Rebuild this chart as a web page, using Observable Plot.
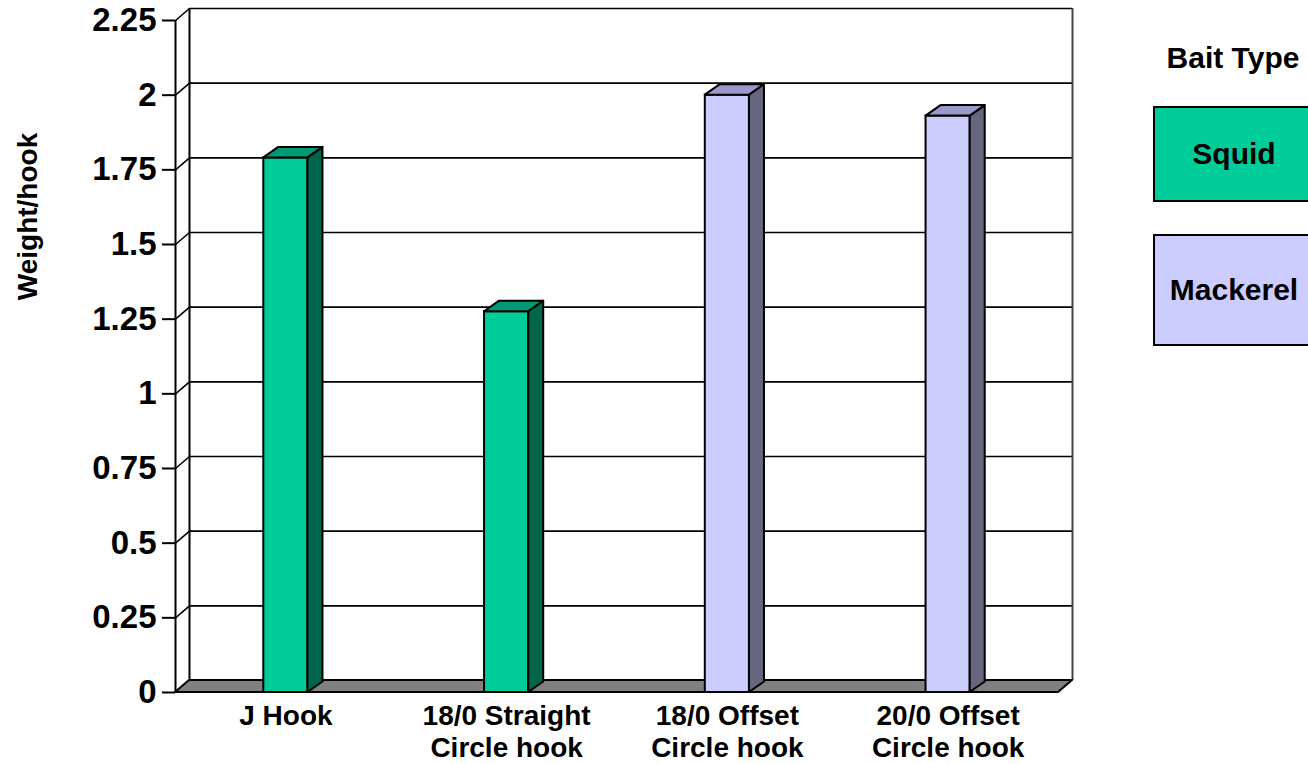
<!DOCTYPE html>
<html>
<head>
<meta charset="utf-8">
<script src="https://cdn.jsdelivr.net/npm/d3@7"></script>
<script src="https://cdn.jsdelivr.net/npm/@observablehq/plot@0.6"></script>
<style>
  html, body { margin: 0; padding: 0; background: #fff; overflow: hidden; }
  #wrap { position: relative; width: 1308px; height: 764px; overflow: hidden;
          font-family: "Liberation Sans", Arial, sans-serif; font-weight: bold; }
  #legend { position: absolute; left: 1153px; top: 0; width: 170px; }
  #legend .title { position: absolute; left: 0; top: 38px; width: 160px; text-align: center;
                   font-size: 30px; line-height: 40px; white-space: nowrap; }
  #legend .box { position: absolute; left: 0; width: 158px; border: 2px solid #000;
                 display: flex; align-items: center; justify-content: center;
                 font-size: 30px; box-sizing: content-box; }
</style>
</head>
<body>
<div id="wrap"><div id="chart"></div><div id="legend"></div></div>
<script>
// ---- data ----
const categories = ["J Hook", "18/0 Straight\nCircle hook", "18/0 Offset\nCircle hook", "20/0 Offset\nCircle hook"];
const values = [1.79, 1.275, 2.0, 1.93];
const bait = ["Squid", "Squid", "Mackerel", "Mackerel"];
const baitTypes = ["Squid", "Mackerel"];
const yTicks = [0, 0.25, 0.5, 0.75, 1, 1.25, 1.5, 1.75, 2, 2.25];
const yTickLabels = ["0", "0.25", "0.5", "0.75", "1", "1.25", "1.5", "1.75", "2", "2.25"];

// ---- styles ----
const frontColor = {Squid: "#00CC99", Mackerel: "#CCCCFF"};
const sideColor  = {Squid: "#006649", Mackerel: "#666680"};
const topColor   = {Squid: "#009973", Mackerel: "#9999CC"};

// 3D depth offsets (in data units)
const X0 = -0.5, X1 = categories.length - 0.5;
const YMAX = 2.25;
const WD = 0.0634;  // wall depth along x
const WE = 0.0402;  // wall depth along y
const BW = 0.1;     // bar half width
const BD = 0.068;   // bar depth along x
const BE = 0.0352;  // bar depth along y

const bars = categories.map((c, i) => ({i, c, v: values[i], bait: bait[i]}));
const sidePts = bars.flatMap(b => [
  {id: b.i, bait: b.bait, x: b.i + BW, y1: 0, y2: b.v},
  {id: b.i, bait: b.bait, x: b.i + BW + BD, y1: BE, y2: b.v + BE}
]);
const topPts = bars.flatMap(b => [
  {id: b.i, bait: b.bait, x: b.i - BW, y1: b.v, y2: b.v},
  {id: b.i, bait: b.bait, x: b.i - BW + BD, y1: b.v, y2: b.v + BE},
  {id: b.i, bait: b.bait, x: b.i + BW, y1: b.v, y2: b.v + BE},
  {id: b.i, bait: b.bait, x: b.i + BW + BD, y1: b.v + BE, y2: b.v + BE}
]);
const floorPts = [
  {x: X0, y1: 0, y2: 0},
  {x: X0 + WD, y1: 0, y2: WE},
  {x: X1, y1: 0, y2: WE},
  {x: X1 + WD, y1: WE, y2: WE}
];

const plot = Plot.plot({
  width: 1308,
  height: 764,
  marginLeft: 175,
  marginRight: 236,
  marginTop: 8,
  marginBottom: 72,
  x: {domain: [X0, X1 + WD], axis: null},
  y: {domain: [0, YMAX + WE], axis: null},
  color: {type: "identity"},
  style: {fontFamily: "Liberation Sans, Arial, sans-serif", fontWeight: "bold", background: "#fff", color: "#000"},
  marks: [
    // back wall gridlines
    Plot.ruleY(yTicks.slice(1), {y: d => d + WE, x1: () => X0 + WD, x2: () => X1 + WD, stroke: "#000", strokeWidth: 1.6}),
    // side wall diagonals
    Plot.link(yTicks, {x1: () => X0, y1: d => d, x2: () => X0 + WD, y2: d => d + WE, stroke: "#000", strokeWidth: 1.6}),
    // back wall edges
    Plot.ruleX([X0 + WD], {y1: WE, y2: YMAX + WE, stroke: "#000", strokeWidth: 2}),
    Plot.ruleX([X1 + WD], {y1: WE, y2: YMAX + WE, stroke: "#444", strokeWidth: 2}),
    // floor
    Plot.area(floorPts, {x1: "x", y1: "y1", y2: "y2", fill: "#808080", stroke: "#000", strokeWidth: 2}),
    // front axis line
    Plot.ruleX([X0], {y1: 0, y2: YMAX, stroke: "#000", strokeWidth: 2}),
    // bars: front faces
    Plot.rect(bars, {x1: d => d.i - BW, x2: d => d.i + BW, y1: 0, y2: "v", fill: d => frontColor[d.bait], stroke: "#000", strokeWidth: 2}),
    // bars: side faces
    Plot.area(sidePts, {x1: "x", y1: "y1", y2: "y2", z: "id", fill: d => sideColor[d.bait], stroke: "#000", strokeWidth: 2}),
    // bars: top faces
    Plot.area(topPts, {x1: "x", y1: "y1", y2: "y2", z: "id", fill: d => topColor[d.bait], stroke: "#000", strokeWidth: 2}),
    // y axis
    Plot.axisY(yTicks, {tickFormat: d => yTickLabels[yTicks.indexOf(d)], tickSize: 13, tickPadding: 6, fontSize: 33, fontWeight: "bold", strokeWidth: 2}),
    // y axis title
    Plot.text(["Weight/hook"], {frameAnchor: "top-left", dx: -158, dy: 208, rotate: -90, text: d => d, fontSize: 28, fontWeight: "bold", textAnchor: "middle"}),
    // category labels
    Plot.text(bars, {x: "i", text: "c", frameAnchor: "bottom", dy: 10, lineAnchor: "top", lineHeight: 1.13, fontSize: 28, fontWeight: "bold", textAnchor: "middle"})
  ]
});
document.getElementById("chart").appendChild(plot);

// legend
const legend = document.getElementById("legend");
const t = document.createElement("div");
t.className = "title"; t.textContent = "Bait Type";
legend.appendChild(t);
const boxTops = [106, 234], boxHeights = [92, 108];
baitTypes.forEach((b, k) => {
  const el = document.createElement("div");
  el.className = "box";
  el.style.top = boxTops[k] + "px";
  el.style.height = boxHeights[k] + "px";
  el.style.background = frontColor[b];
  el.textContent = b;
  legend.appendChild(el);
});
</script>
</body>
</html>
